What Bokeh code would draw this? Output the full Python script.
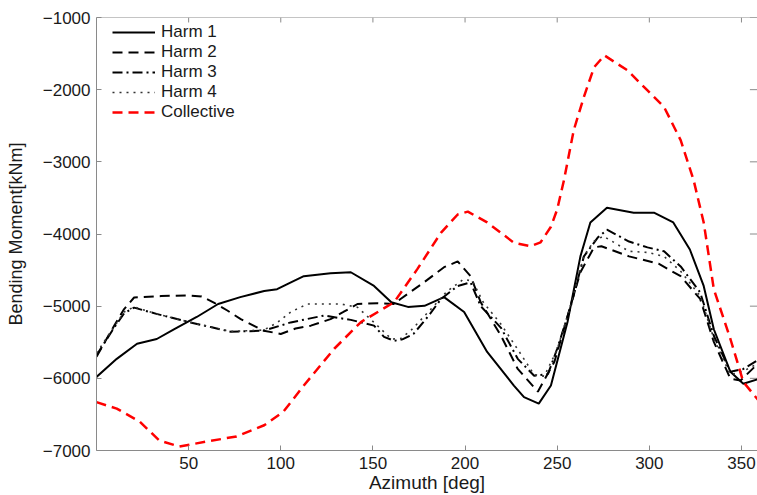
from bokeh.plotting import figure
from bokeh.models import Range1d, FixedTicker, CustomJSTickFormatter, Span
from bokeh.embed import file_html
from bokeh.resources import INLINE

# ---- data ----
harm1_deg = [0, 11, 22, 32.7, 42, 54.4, 66, 78, 91, 98, 105.5, 112.5, 127, 138, 150.6, 160, 169, 178,
             188.6, 199.5, 212, 226.5, 232, 240, 246.6, 255.6, 262.6, 268, 277, 291.5, 302.5, 313, 322,
             329.5, 335, 344, 351, 360]
harm1_val = [-5980, -5730, -5520, -5455, -5320, -5150, -4970, -4875, -4790, -4765, -4670, -4585, -4545,
             -4530, -4720, -4945, -5010, -4995, -4875, -5080, -5635, -6100, -6260, -6350, -6100, -5220,
             -4310, -3840, -3635, -3705, -3705, -3840, -4215, -4720, -5320, -5910, -6075, -6005]

harm2_deg = [0, 9.5, 15, 20.4, 35, 49.4, 57, 63.7, 71, 78.3, 90.8, 100, 108, 116.3, 127, 134, 141.6,
             152.5, 161.5, 165, 177.7, 188.6, 196, 203, 208.5, 219.5, 228.6, 239.5, 248.5, 255.6, 262.6,
             270, 274, 289, 305, 317, 327.6, 335, 344, 349.5, 360]
harm2_val = [-5700, -5275, -5040, -4880, -4860, -4850, -4865, -4950, -5060, -5180, -5340, -5385, -5310,
             -5270, -5180, -5080, -4970, -4960, -4970, -4900, -4670, -4460, -4380, -4585, -4945, -5410,
             -5870, -6185, -5770, -5140, -4530, -4185, -4170, -4310, -4410, -4585, -4900, -5495, -6005,
             -6030, -5770]

harm3_deg = [0, 9.5, 15, 20.4, 33, 51, 62, 72.9, 90.8, 105.4, 123.5, 138, 150.6, 156, 161.5, 166, 172,
             180, 187, 196, 203, 208.5, 219.5, 228.6, 237.5, 245, 250, 257.4, 264.5, 272, 277, 289, 299,
             308, 317, 327.6, 335, 344, 351, 360]
harm3_val = [-5680, -5300, -5100, -5020, -5110, -5225, -5290, -5355, -5340, -5225, -5130, -5190, -5270,
             -5425, -5480, -5460, -5385, -5140, -4900, -4720, -4670, -5000, -5300, -5730, -5965, -5940,
             -5590, -5000, -4310, -4050, -3940, -4105, -4185, -4240, -4450, -4810, -5410, -5910, -5870,
             -5730]

harm4_deg = [0, 9.5, 15, 20.4, 33, 51, 62, 72.9, 90.8, 98, 105.4, 114.5, 132.6, 141.6, 150.6, 160, 165,
             170.5, 183, 190, 199, 204, 210, 219.5, 228.6, 237.5, 243, 250, 257.4, 264.5, 270, 275, 289,
             299, 308, 317, 327.6, 335, 344, 351, 360]
harm4_val = [-5650, -5290, -5080, -5010, -5110, -5225, -5290, -5350, -5330, -5230, -5080, -4970, -4970,
             -5015, -5225, -5455, -5450, -5340, -5000, -4800, -4630, -4650, -4950, -5250, -5600, -5950,
             -5970, -5600, -4980, -4300, -4100, -4030, -4240, -4255, -4310, -4515, -4860, -5450, -5950,
             -5900, -5780]

coll_deg = [0, 11, 23.5, 34, 45, 60, 76, 91, 101.5, 112.5, 129, 143.5, 161.5, 174, 187, 196, 201.5, 212,
            226.5, 235.6, 241, 246.6, 250, 253.7, 259, 264.5, 270, 275.6, 288, 299, 308, 317, 324, 329.5,
            335, 344, 351, 360]
coll_val = [-6330, -6420, -6600, -6860, -6945, -6875, -6805, -6650, -6460, -6100, -5590, -5220, -4945,
            -4490, -3980, -3730, -3690, -3840, -4120, -4170, -4115, -3900, -3660, -3250, -2560, -2100,
            -1690, -1525, -1730, -2010, -2240, -2700, -3250, -3840, -4765, -5455, -6050, -6330]

x_ticks = [50, 100, 150, 200, 250, 300, 350]
y_ticks = [-7000, -6000, -5000, -4000, -3000, -2000, -1000]

X_MAX = 360
Y_MIN, Y_MAX = -7000, -1000

FONT = "Liberation Sans"
AXIS_GRAY = "#8a8a8a"
TEXT = "#1a1a1a"

p = figure(width=757, height=495, output_backend="svg", toolbar_location=None,
           x_range=Range1d(0, 358.7), y_range=Range1d(Y_MIN, Y_MAX),
           min_border_left=96, min_border_right=0, min_border_top=17, min_border_bottom=43)
p.outline_line_color = None
p.grid.visible = False
p.background_fill_color = "white"
p.border_fill_color = "white"

minus_fmt = CustomJSTickFormatter(code="return tick < 0 ? '\\u2212' + Math.abs(tick) : String(tick);")

xa = p.xaxis[0]
xa.ticker = FixedTicker(ticks=x_ticks)
xa.axis_label = "Azimuth [deg]"
ya = p.yaxis[0]
ya.ticker = FixedTicker(ticks=y_ticks)
ya.formatter = minus_fmt
ya.axis_label = "Bending Moment[kNm]"

for ax in (xa, ya):
    ax.axis_line_color = AXIS_GRAY
    ax.major_tick_line_color = AXIS_GRAY
    ax.minor_tick_line_color = None
    ax.major_tick_in = 5
    ax.major_tick_out = 0
    ax.major_label_text_font = FONT
    ax.major_label_text_color = TEXT
    ax.axis_label_text_font = FONT
    ax.axis_label_text_color = TEXT
    ax.axis_label_text_font_style = "normal"

xa.major_label_text_font_size = "17px"
xa.major_label_standoff = 6
xa.axis_label_text_font_size = "19px"
xa.axis_label_standoff = 0
ya.major_label_text_font_size = "17px"
ya.major_label_standoff = 6
ya.axis_label_text_font_size = "18px"
ya.axis_label_standoff = 14

# top frame line and inward tick marks on the top and right sides (box axes)
p.add_layout(Span(location=Y_MAX, dimension="width", line_color=AXIS_GRAY, line_width=1))
tick_len_y = (Y_MAX - Y_MIN) * 5 / 435.0
tick_len_x = 358.7 * 5 / 661.0
p.segment(x0=x_ticks, y0=[Y_MAX] * len(x_ticks), x1=x_ticks, y1=[Y_MAX - tick_len_y] * len(x_ticks),
          line_color=AXIS_GRAY, line_width=1)
p.segment(x0=[X_MAX] * len(y_ticks), y0=y_ticks, x1=[X_MAX - 2 * tick_len_x] * len(y_ticks), y1=y_ticks,
          line_color=AXIS_GRAY, line_width=1)

p.line(harm1_deg, harm1_val, line_color="black", line_width=2, legend_label="Harm 1")
p.line(harm2_deg, harm2_val, line_color="black", line_width=2, line_dash="10 6", legend_label="Harm 2")
p.line(harm3_deg, harm3_val, line_color="black", line_width=2, line_dash="10 4 2 4", legend_label="Harm 3")
p.line(harm4_deg, harm4_val, line_color="#333333", line_width=1.6, line_dash="2 5", legend_label="Harm 4")
p.line(coll_deg, coll_val, line_color="#ff0000", line_width=2.5, line_dash="10 6", legend_label="Collective")

lg = p.legend[0]
lg.location = (16, 328)
lg.margin = 0
lg.padding = 0
lg.spacing = 0
lg.border_line_color = None
lg.background_fill_alpha = 0
lg.glyph_width = 43
lg.glyph_height = 20
lg.label_height = 20
lg.label_standoff = 6
lg.label_text_font = FONT
lg.label_text_font_size = "17px"
lg.label_text_color = TEXT

open("out.html", "w").write(file_html(p, INLINE))
